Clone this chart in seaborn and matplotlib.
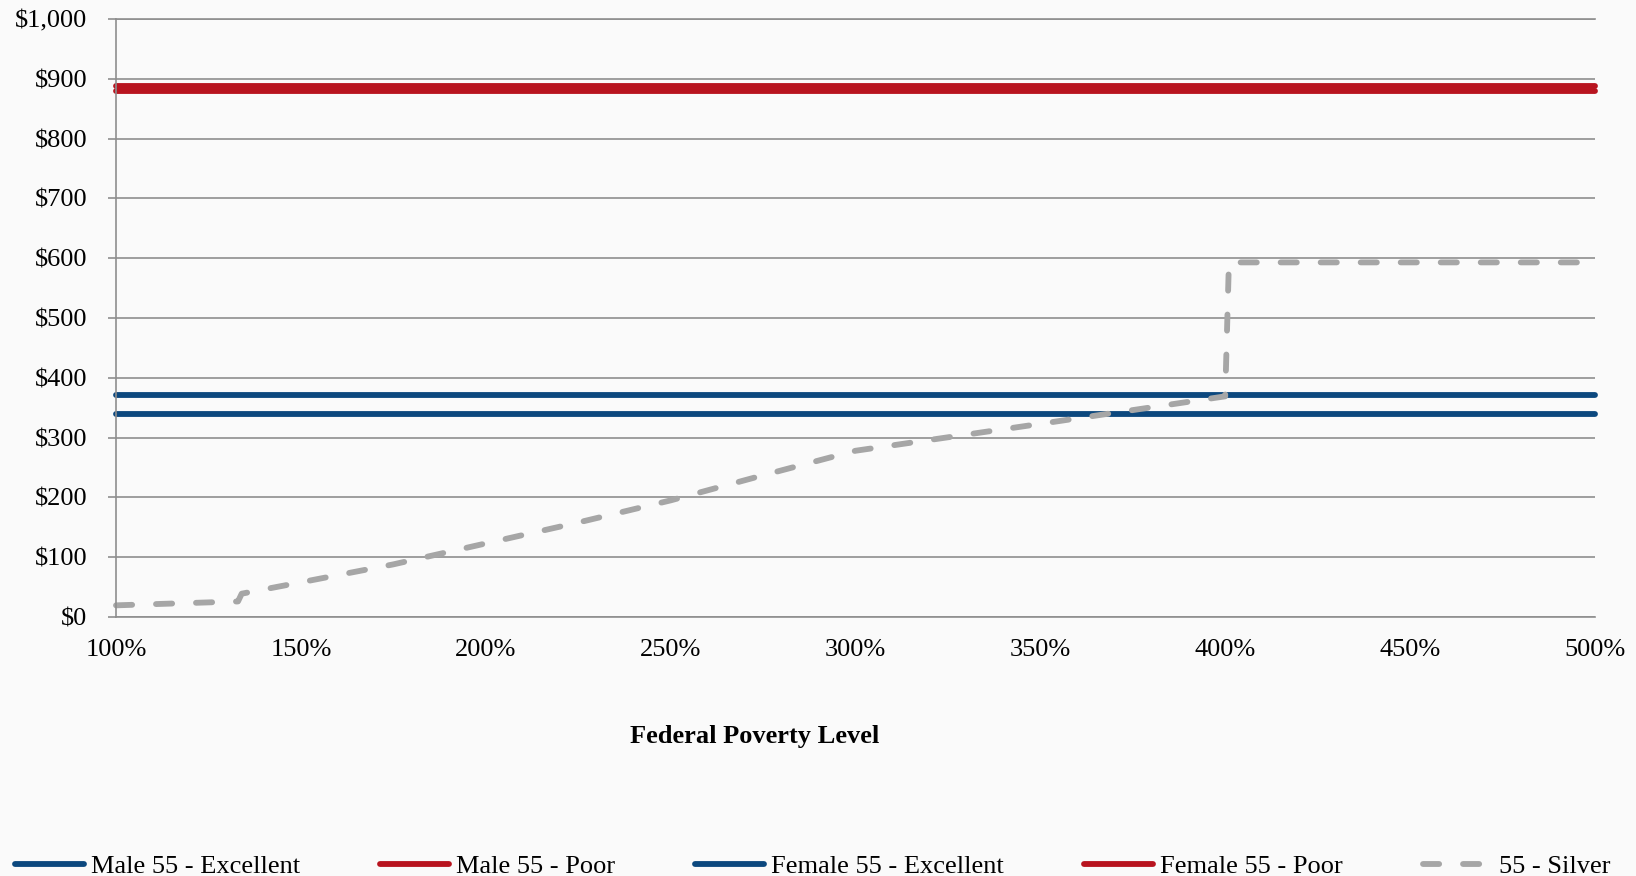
import matplotlib
matplotlib.use("Agg")
import matplotlib.pyplot as plt
import seaborn as sns
from matplotlib.ticker import FixedLocator, NullFormatter

# Monthly premium after subsidy, by Federal Poverty Level (%)
fpl_span = [100, 500]
male_excellent = [371, 371]
male_poor = [888, 888]
female_excellent = [339, 339]
female_poor = [879, 879]

silver_fpl = [100, 133, 134, 150, 175, 200, 225, 250, 275, 300, 350, 400, 401, 500]
silver_cost = [19.5, 26, 39, 58, 88, 123, 158, 195, 237, 278, 323, 369, 593, 593]

series_labels = ["Male 55 - Excellent", "Male 55 - Poor",
                 "Female 55 - Excellent", "Female 55 - Poor", "55 - Silver"]

x_label_ticks = [100, 150, 200, 250, 300, 350, 400, 450, 500]
x_tick_labels = ["100%", "150%", "200%", "250%", "300%", "350%", "400%", "450%", "500%"]
x_mark_ticks = [100, 200, 300, 400, 500]
y_ticks = [0, 100, 200, 300, 400, 500, 600, 700, 800, 900, 1000]
y_tick_labels = ["$0", "$100", "$200", "$300", "$400", "$500",
                 "$600", "$700", "$800", "$900", "$1,000"]

BLUE = "#0c487e"
RED = "#b8141f"
SILVER = "#a6a6a6"
GRID = "#8e8e8e"
BG = "#fafafa"
FS = 19

sns.set_theme(style="white")
plt.rcParams["font.family"] = ["Liberation Serif", "DejaVu Serif"]
plt.rcParams["text.color"] = "black"

fig = plt.figure(figsize=(16.36, 8.76), dpi=100, facecolor=BG)
ax = fig.add_axes([0.0709, 0.29566, 0.9040, 0.68265], facecolor=BG)

LW = 4.2
common = dict(ax=ax, linewidth=LW, solid_capstyle="round", clip_on=False, legend=False)
sns.lineplot(x=fpl_span, y=male_excellent, color=BLUE, label=series_labels[0], **common)
sns.lineplot(x=fpl_span, y=male_poor, color=RED, label=series_labels[1], **common)
sns.lineplot(x=fpl_span, y=female_excellent, color=BLUE, label=series_labels[2], **common)
sns.lineplot(x=fpl_span, y=female_poor, color=RED, label=series_labels[3], **common)
sns.lineplot(x=silver_fpl, y=silver_cost, color=SILVER, label=series_labels[4],
             linestyle=(0, (2.77, 4.09)), dash_capstyle="round", solid_capstyle="round",
             ax=ax, linewidth=LW, clip_on=False, legend=False, estimator=None, sort=False)

ax.set_xlim(100, 500)
ax.set_ylim(0, 1000)
ax.set_xlabel("")
ax.set_ylabel("")

# Horizontal gridlines only
ax.set_yticks(y_ticks)
ax.set_yticklabels(y_tick_labels)
ax.yaxis.grid(True, color=GRID, linewidth=1.2)
ax.xaxis.grid(False)
ax.set_axisbelow(True)

ax.xaxis.set_major_locator(FixedLocator(x_label_ticks))
ax.set_xticklabels(x_tick_labels)
ax.xaxis.set_minor_locator(FixedLocator(x_mark_ticks))
ax.xaxis.set_minor_formatter(NullFormatter())

ax.tick_params(axis="y", which="major", direction="out", length=5.8, width=1.2,
               color=GRID, pad=15, labelsize=FS, labelcolor="black", left=True)
ax.tick_params(axis="x", which="major", length=0, pad=16, labelsize=FS,
               labelcolor="black", bottom=True)
ax.tick_params(axis="x", which="minor", direction="out", length=5.8, width=1.2,
               color=GRID, bottom=True)

for side in ["left", "bottom", "top"]:
    ax.spines[side].set_visible(True)
    ax.spines[side].set_color(GRID)
    ax.spines[side].set_linewidth(1.2)
ax.spines["right"].set_visible(False)

fig.text(755 / 1636, 1 - 736 / 876, "Federal Poverty Level", ha="center", va="center",
         fontsize=FS, fontweight="bold", color="black")

handles, labels = ax.get_legend_handles_labels()
fig.legend(handles, labels, ncol=5, loc="center left",
           bbox_to_anchor=(15 / 1636, 10 / 876), frameon=False,
           borderpad=0, borderaxespad=0, handlelength=2.61, handletextpad=0.27,
           columnspacing=3.03, fontsize=FS)

fig.savefig("out.png", dpi=100, facecolor=BG)
